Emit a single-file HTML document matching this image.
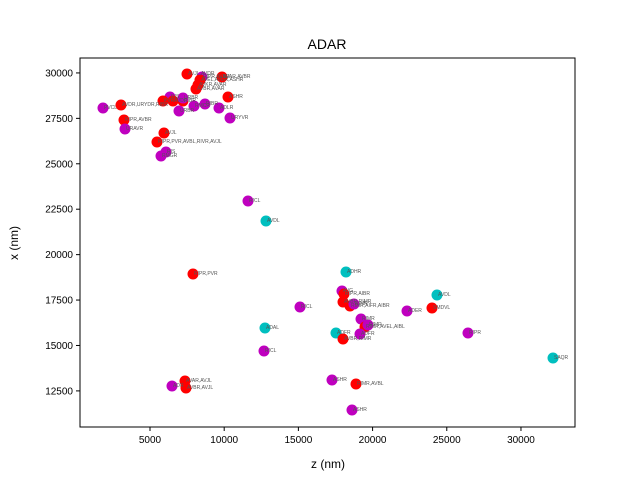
<!DOCTYPE html>
<html><head><meta charset="utf-8"><style>
body{margin:0;background:#fff;}
svg{font-family:"Liberation Sans","DejaVu Sans",sans-serif;}
</style></head><body>
<svg id="chart" width="640" height="480">
<rect width="640" height="480" fill="#fff"/>
<text x="327" y="49" font-size="14" text-anchor="middle">ADAR</text>
<text x="328" y="468" font-size="12" text-anchor="middle">z (nm)</text>
<text x="18" y="243" font-size="12" text-anchor="middle" transform="rotate(-90 18 243)">x (nm)</text>
<g id="marks"></g>
<rect x="80" y="58" width="495" height="369" fill="none" stroke="#000" stroke-width="1"/>
</svg>
<script>
const xs = [7494,9853,8505,8370,8235,8100,10257,3046,1833,6348,5876,6550,7224,7224,7966,8707,9650,6955,10392,3248,3316,5944,5472,6079,5742,11605,12818,7898,12750,12683,7359,7426,6483,18209,17939,18074,18007,18478,18748,15109,19220,19489,19691,17535,19152,18007,22320,24341,24004,26430,32159,17265,18883,18613];
const ys = [29942,29777,29777,29612,29336,29116,28676,28236,28070,28676,28456,28456,28456,28621,28180,28291,28070,27905,27520,27410,26915,26694,26199,25649,25428,22952,21851,18934,15962,14696,13044,12659,12769,19044,17998,17833,17393,17172,17283,17117,16457,16017,16127,15686,15631,15356,16897,17778,17062,15686,14310,13100,12879,11448];
const kinds = ["r","r","p","r","r","r","r","r","p","p","r","r","r","p","p","p","p","p","p","r","p","r","r","p","p","p","c","r","c","p","r","r","p","c","p","r","r","r","p","p","p","r","p","c","p","r","p","c","r","p","c","p","r","p"];
const labels = ["AVJL,AVDR","AVAR,AVBR","RIPR,AVBR","AVEL,AVER,ASHR","AVKR,AVAR","AVBR,AVAR","ASHR","AVDR,URYDR,RIBR","PVCL","RIS","PVR","AVDR","RIBR","URBR","RMCR","RIBR","ADLR","URBR","URYVR","RIPR,AVBR","URAVR","AVJL","RIPR,PVR,AVBL,RIVR,AVJL","RIS","RMGR","RICL","AVDL","RIPR,PVR","ADAL","RICL","AVAR,AVJL","AVBR,AVJL","ADR","ADHR","AVG","RIPR,AIBR","AVBR,RIMR","RIMR,AIFR,AIBR","RIMR","RICL","RIMR","RIMR,AVEL,AIBL","RIMR","ADFR","ADFR","AVBR,RIMR","ADER","AVDL","SMDVL","RIPR","SAQR","ASHR","RIMR,AVBL","ASHR"];
const xTicks = [5000,10000,15000,20000,25000,30000];
const yTicks = [12500,15000,17500,20000,22500,25000,27500,30000];
const colorMap = {r:"#ff0000",p:"#bf00bf",c:"#00bfbf"};
const xMin=283, xMax=33641, yMin=10513, yMax=30822;
const L=80,R=575,T=58,B=427;
function sx(v){return L+(v-xMin)/(xMax-xMin)*(R-L);}
function sy(v){return B-(v-yMin)/(yMax-yMin)*(B-T);}
const NS="http://www.w3.org/2000/svg";
const svg=document.getElementById('chart');
const g=document.getElementById('marks');
xTicks.forEach(t=>{
  const x=sx(t);
  const l=document.createElementNS(NS,'line');
  l.setAttribute('x1',x);l.setAttribute('x2',x);l.setAttribute('y1',B);l.setAttribute('y2',B+4);l.setAttribute('stroke','#000');
  
  
  svg.appendChild(l);
  const tx=document.createElementNS(NS,'text');
  tx.setAttribute('x',x);tx.setAttribute('y',B+16);tx.setAttribute('font-size','10');tx.setAttribute('text-anchor','middle');
  tx.textContent=t;
  
  
  svg.appendChild(tx);
});
yTicks.forEach(t=>{
  const y=sy(t);
  const l=document.createElementNS(NS,'line');
  l.setAttribute('x1',L-4);l.setAttribute('x2',L);l.setAttribute('y1',y);l.setAttribute('y2',y);l.setAttribute('stroke','#000');
  
  
  svg.appendChild(l);
  const tx=document.createElementNS(NS,'text');
  tx.setAttribute('x',L-7);tx.setAttribute('y',y+3.5);tx.setAttribute('font-size','10');tx.setAttribute('text-anchor','end');
  tx.textContent=t;
  
  
  svg.appendChild(tx);
});
xs.forEach((v,i)=>{
  const c=document.createElementNS(NS,'circle');
  c.setAttribute('cx',sx(v));c.setAttribute('cy',sy(ys[i]));c.setAttribute('r','5.5');c.setAttribute('fill',colorMap[kinds[i]]);
  
  
  g.appendChild(c);
});
xs.forEach((v,i)=>{
  const t=document.createElementNS(NS,'text');
  t.setAttribute('x',sx(v)+1);t.setAttribute('y',sy(ys[i])+1);t.setAttribute('font-size','5');t.setAttribute('fill','#555');
  t.textContent=labels[i];
  
  
  g.appendChild(t);
});
</script>
</body></html>
